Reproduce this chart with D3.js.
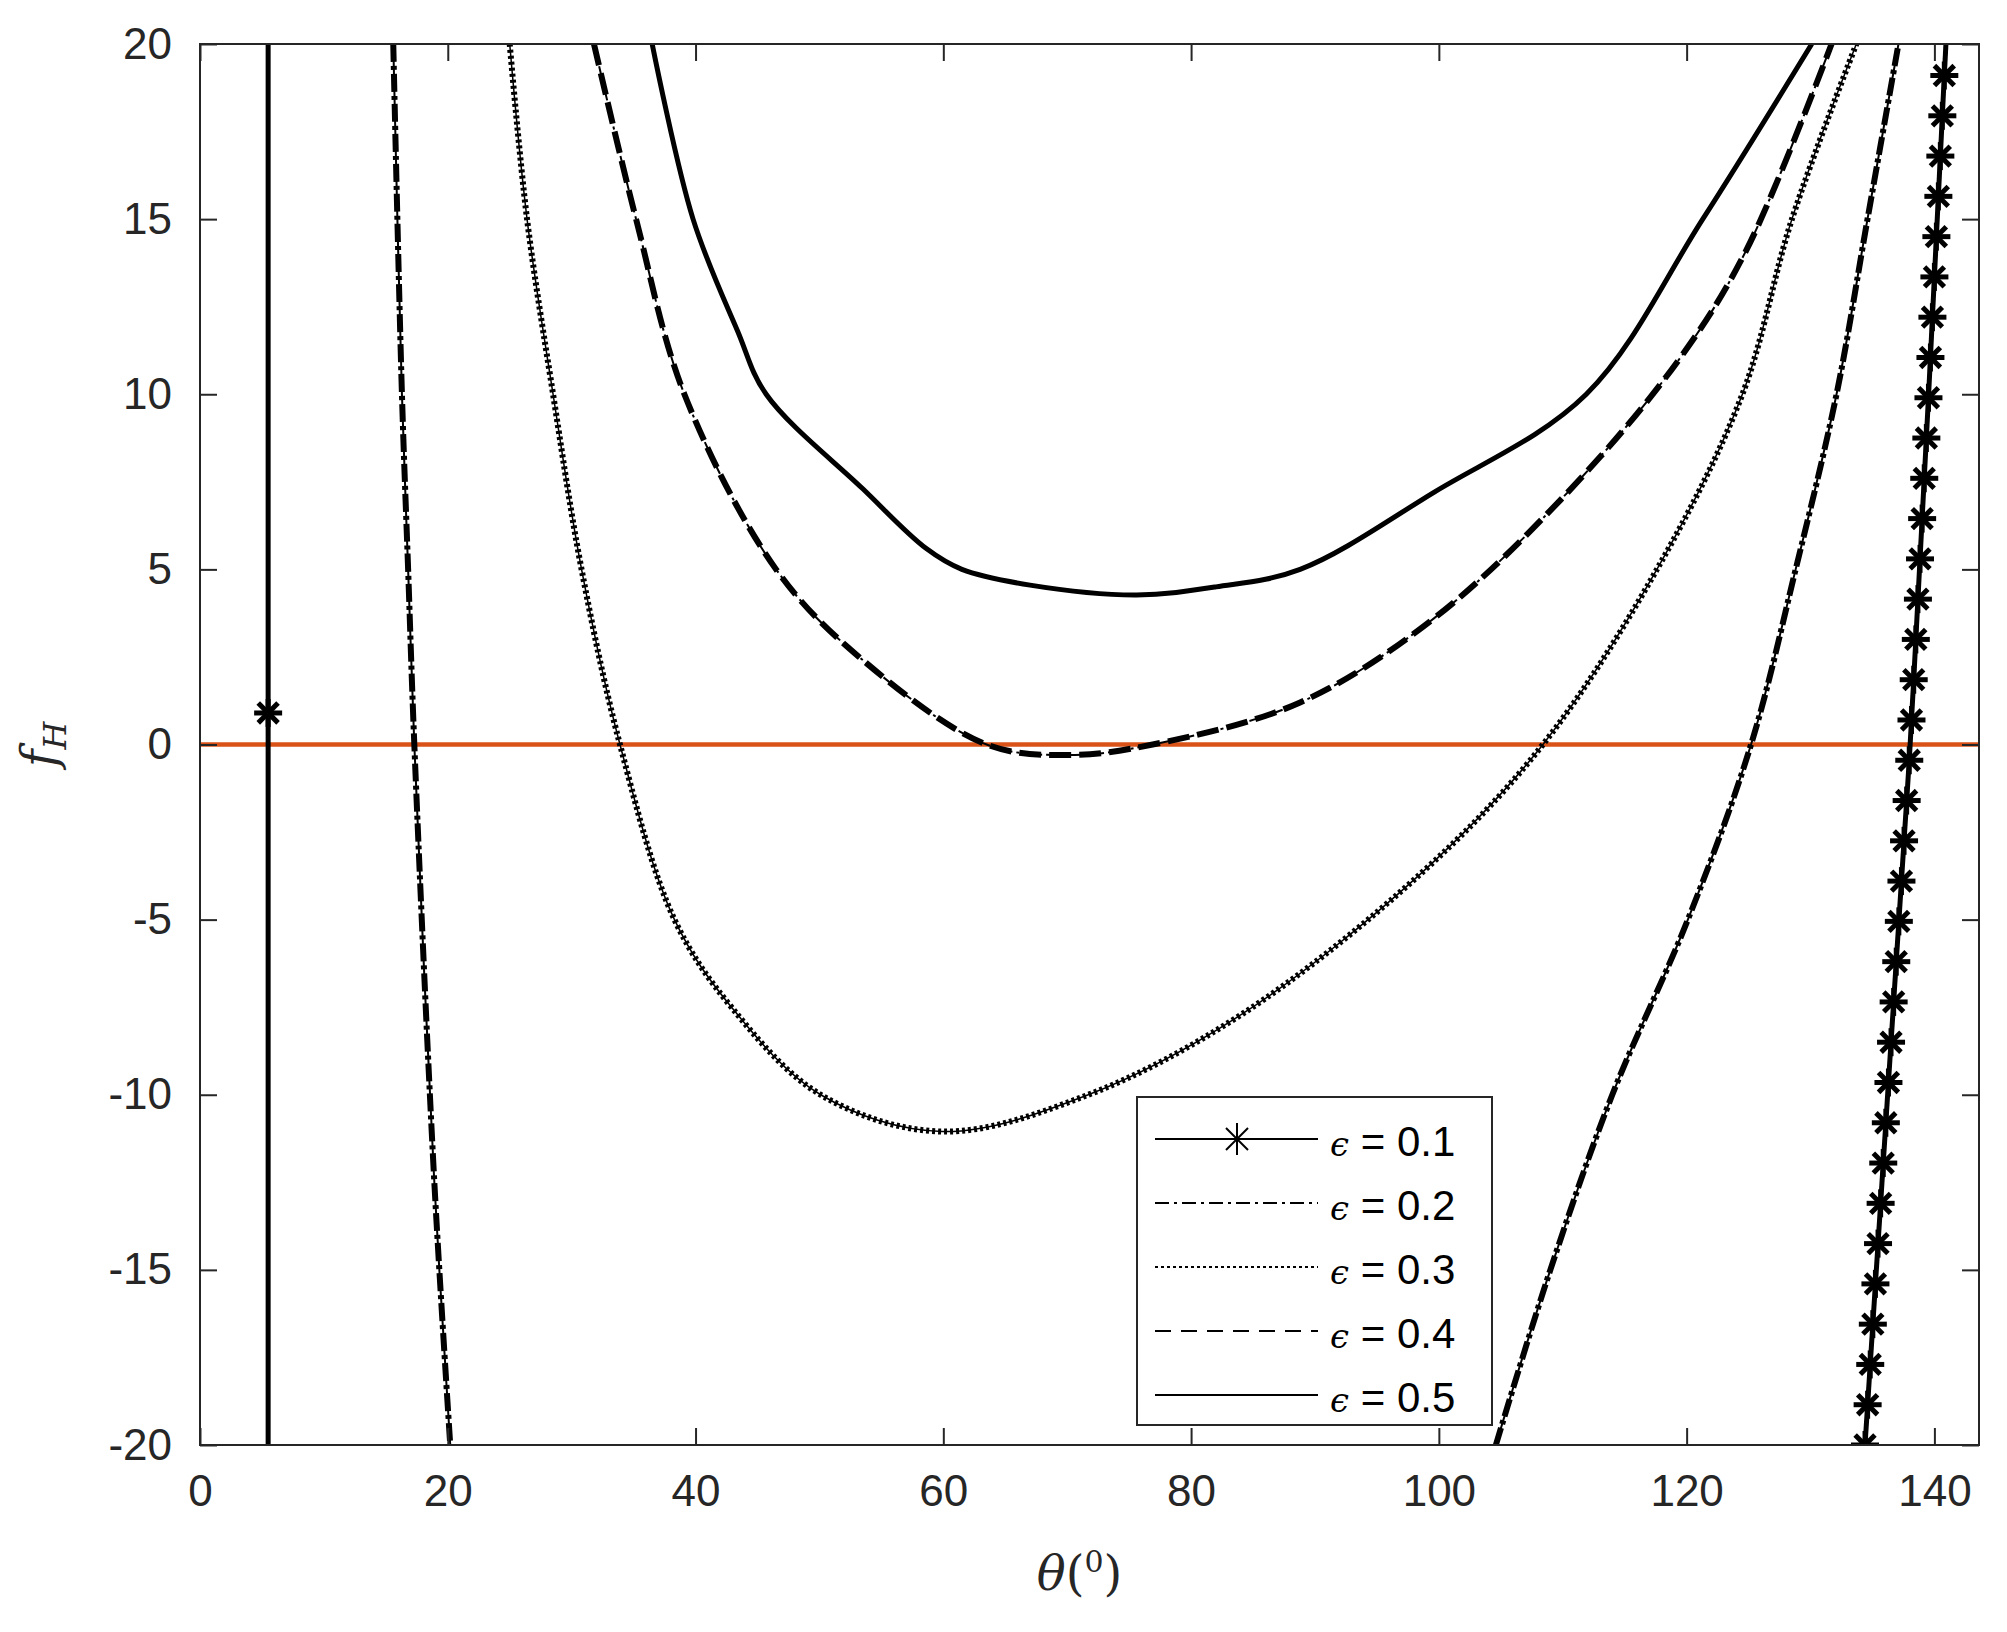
<!DOCTYPE html>
<html><head><meta charset="utf-8">
<script src="https://cdn.jsdelivr.net/npm/d3@7"></script>
<style>body{margin:0;background:#fff}</style>
</head><body>
<svg id="chart" width="2007" height="1632"></svg>
<script>
// data
const xTicks = [0, 20, 40, 60, 80, 100, 120, 140];
const yTicks = [-20, -15, -10, -5, 0, 5, 10, 15, 20];

// eps = 0.1 : vertical branch left, starred branch right
const eps1Left = [[5.5, -20], [5.5, 0.9], [5.5, 20]];
const eps1Star = [[5.5, 0.9]];
const eps1Right = [[134.4,-20],[134.61,-18.85],[134.82,-17.7],[135.03,-16.55],[135.24,-15.4],[135.45,-14.25],
  [135.66,-13.1],[135.87,-11.95],[136.08,-10.8],[136.29,-9.65],[136.5,-8.5],[136.71,-7.35],[136.92,-6.2],
  [137.13,-5.05],[137.34,-3.9],[137.55,-2.75],[137.76,-1.6],[137.97,-0.45],[138.15,0.7],[138.33,1.85],
  [138.5,3.0],[138.67,4.15],[138.84,5.3],[139.01,6.45],[139.18,7.6],[139.35,8.75],[139.52,9.9],
  [139.68,11.05],[139.84,12.2],[140.0,13.35],[140.16,14.5],[140.32,15.65],[140.48,16.8],[140.64,17.95],[140.8,19.1]];
const eps1RightEnd = [[140.8, 19.1], [140.93, 20]];

// eps = 0.2 : outer branches
const eps2Left = [[15.6,20],[16.3,10],[16.8,5],[17.3,0],[18.9,-12.4],[20.2,-20]];
const eps2Right = [[104.6,-20],[109,-15],[114,-10],[120.1,-5],[125.2,0],[128.8,5],[132.1,10],[134.6,15],[137.1,20]];

// eps = 0.3
const eps3 = [[25,20],[26.4,15],[28.5,10],[30.8,5],[33.9,0],[38.3,-5],[42.9,-7.5],[50.1,-10],[59.9,-11.05],
  [71.7,-10],[84.1,-7.7],[98.5,-3.7],[108.4,0],[117.6,5],[124.5,10],[128.5,15],[133.7,20]];

// eps = 0.4
const eps4 = [[31.8,20],[35.2,15],[39.1,10],[46.5,5],[53.2,2.5],[63.5,0],[70.2,-0.3],[76.9,0],[88.8,1.2],
  [99.6,3.6],[110.4,7.2],[119.4,11],[124.8,14.1],[131.7,20]];

// eps = 0.5
const eps5 = [[36.5,20],[39.8,15],[43.4,11.8],[45.7,10],[53.5,7.3],[58.6,5.6],[61.5,5],[67,4.55],[75.6,4.27],
  [82,4.5],[88.8,5],[99.6,7.2],[111.9,10],[121.3,15],[130.1,20]];

const legendLabels = ["0.1", "0.2", "0.3", "0.4", "0.5"];
const legendDash = [null, "14,5,3,5", "3,3", "16,10", null];

const svg = d3.select("#chart");
const L = 200, R = 1979, T = 44, B = 1445;
const x = d3.scaleLinear().domain([0, 143.6]).range([L, R]);
const y = d3.scaleLinear().domain([-20, 20]).range([B, T]);
const axisColor = "#262626";

svg.append("clipPath").attr("id", "plotClip")
  .append("rect").attr("x", L).attr("y", T).attr("width", R - L).attr("height", B - T);

const plot = svg.append("g").attr("clip-path", "url(#plotClip)");
const line = d3.line().x(d => x(d[0])).y(d => y(d[1])).curve(d3.curveCatmullRom.alpha(0.5));

function drawCurve(data, dash, width) {
  plot.append("path").datum(data).attr("d", line)
    .attr("fill", "none").attr("stroke", "#000").attr("stroke-width", width)
    .attr("stroke-dasharray", dash);
}

// orange zero line
plot.append("line").attr("x1", L).attr("x2", R).attr("y1", y(0)).attr("y2", y(0))
  .attr("stroke", "#D95319").attr("stroke-width", 4.5);

drawCurve(eps1Left, null, 5);
drawCurve(eps1Right, null, 5);
drawCurve(eps1RightEnd, null, 5);
drawCurve(eps2Left, "18,4,4,4", 6);
drawCurve(eps2Left, null, 2);
drawCurve(eps2Right, "18,4,4,4", 6);
drawCurve(eps2Right, null, 2);
drawCurve(eps3, "3,3", 6);
drawCurve(eps3, null, 1.5);
drawCurve(eps4, "22,8", 6);
drawCurve(eps4, "12,4,3,4", 2);
drawCurve(eps5, null, 5);

// asterisk markers
function star(g, cx, cy, r, w) {
  const d = r * Math.SQRT1_2;
  [[-r,0,r,0],[0,-r,0,r],[-d,-d,d,d],[-d,d,d,-d]].forEach(s => {
    g.append("line").attr("x1", cx + s[0]).attr("y1", cy + s[1]).attr("x2", cx + s[2]).attr("y2", cy + s[3])
      .attr("stroke", "#000").attr("stroke-width", w);
  });
}
eps1Right.concat(eps1Star).forEach(d => star(plot, x(d[0]), y(d[1]), 14, 5));

// axes box
svg.append("rect").attr("x", L).attr("y", T).attr("width", R - L).attr("height", B - T)
  .attr("fill", "none").attr("stroke", axisColor).attr("stroke-width", 2);

const fmt = d => String(d);
const xAxis = svg.append("g").attr("transform", `translate(0,${B})`)
  .call(d3.axisBottom(x).tickValues(xTicks).tickFormat(fmt).tickSizeInner(-17).tickSizeOuter(0).tickPadding(30));
const xTop = svg.append("g").attr("transform", `translate(0,${T})`)
  .call(d3.axisTop(x).tickValues(xTicks).tickSizeInner(-17).tickSizeOuter(0).tickFormat(""));
const yAxis = svg.append("g").attr("transform", `translate(${L},0)`)
  .call(d3.axisLeft(y).tickValues(yTicks).tickFormat(fmt).tickSizeInner(-17).tickSizeOuter(0).tickPadding(28));
const yRight = svg.append("g").attr("transform", `translate(${R},0)`)
  .call(d3.axisRight(y).tickValues(yTicks).tickSizeInner(-17).tickSizeOuter(0).tickFormat(""));
[xAxis, xTop, yAxis, yRight].forEach(a => {
  a.select(".domain").remove();
  a.selectAll("line").attr("stroke", axisColor).attr("stroke-width", 2);
  a.selectAll("text").attr("fill", axisColor).attr("font-family", "Liberation Sans, Arial, sans-serif")
    .attr("font-size", 44);
});

// axis labels
const xl = svg.append("text").attr("x", x(71)).attr("y", 1590).attr("text-anchor", "middle")
  .attr("font-family", "DejaVu Serif, Liberation Serif, serif").attr("font-size", 48).attr("fill", axisColor);
xl.append("tspan").attr("font-style", "italic").text("θ");
xl.append("tspan").text("(");
xl.append("tspan").attr("font-size", 30).attr("dy", -18).text("0");
xl.append("tspan").attr("dy", 18).text(")");

const yl = svg.append("text").attr("transform", `translate(56,${y(0)}) rotate(-90)`).attr("text-anchor", "middle")
  .attr("font-family", "DejaVu Serif, Liberation Serif, serif").attr("font-size", 48).attr("fill", axisColor);
yl.append("tspan").attr("font-style", "italic").text("f");
yl.append("tspan").attr("font-style", "italic").attr("font-size", 32).attr("dy", 10).text("H");

// legend
const lg = svg.append("g");
lg.append("rect").attr("x", 1137).attr("y", 1097).attr("width", 355).attr("height", 328)
  .attr("fill", "#fff").attr("stroke", axisColor).attr("stroke-width", 2);
legendLabels.forEach((lab, i) => {
  const ly = 1139 + i * 64;
  lg.append("line").attr("x1", 1155).attr("x2", 1318).attr("y1", ly).attr("y2", ly)
    .attr("stroke", "#000").attr("stroke-width", 2).attr("stroke-dasharray", legendDash[i]);
  if (i === 0) {
    lg.append("line").attr("x1", 1237).attr("x2", 1237).attr("y1", ly - 16).attr("y2", ly + 16).attr("stroke", "#000").attr("stroke-width", 2);
    lg.append("line").attr("x1", 1226).attr("x2", 1248).attr("y1", ly - 11).attr("y2", ly + 11).attr("stroke", "#000").attr("stroke-width", 2);
    lg.append("line").attr("x1", 1226).attr("x2", 1248).attr("y1", ly + 11).attr("y2", ly - 11).attr("stroke", "#000").attr("stroke-width", 2);
  }
  const t = lg.append("text").attr("x", 1330).attr("y", ly + 17).attr("fill", "#000")
    .attr("font-family", "Liberation Sans, Arial, sans-serif").attr("font-size", 42);
  t.append("tspan").attr("font-family", "DejaVu Serif, serif").attr("font-style", "italic")
    .attr("font-size", 34).text("ϵ");
  t.append("tspan").text(" = " + lab);
});
</script>
</body></html>
